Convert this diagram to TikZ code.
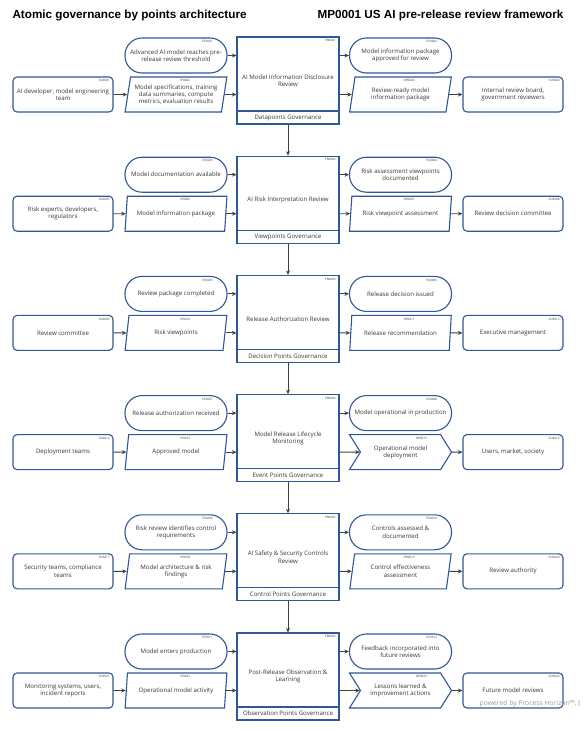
\documentclass[tikz,border=0pt]{standalone}
\usepackage{fontspec}
\setmainfont{Open Sans}
\newfontfamily\titlefont{Liberation Sans}
\usepackage{tikz}
\usetikzlibrary{arrows.meta, shapes.geometric, shapes.symbols}
\definecolor{boxblue}{RGB}{47,88,150}
\definecolor{inkgray}{RGB}{55,55,55}
\definecolor{linkgray}{RGB}{64,64,64}

\begin{document}
\begin{tikzpicture}[x=1pt, y=-1pt, line width=1.1pt,
    base/.style={draw=boxblue, align=center, text=inkgray, inner sep=1pt,
        font=\fontsize{6.1}{7.3}\selectfont},
    party/.style={base, rounded corners=4pt, minimum width=100pt, minimum height=35pt},
    trigger/.style={base, rounded corners=17pt, minimum width=102pt, minimum height=35pt},
    flow/.style={base, trapezium, trapezium left angle=77, trapezium right angle=103,
        trapezium stretches=true, minimum width=102pt, minimum height=35pt},
    handoff/.style={base, signal, signal to=east, signal from=west, signal pointer angle=116,
        minimum width=102pt, minimum height=35pt},
    process/.style={base, minimum width=102pt, minimum height=87pt},
    gov/.style={base, minimum width=102pt, minimum height=13pt, anchor=south},
    code/.style={font=\fontsize{3}{3}\selectfont, text=inkgray, inner sep=0.5pt},
    tagbox/.style={label={[code, anchor=north east, xshift=-3pt, yshift=-2pt]north east:#1}},
    tagpill/.style={label={[code, anchor=north east, xshift=-14pt, yshift=-2pt]north east:#1}},
    tagsig/.style={label={[code, anchor=north east, xshift=-13pt, yshift=-2pt]north east:#1}},
    link/.style={draw=linkgray, line width=0.9pt, -{Stealth[length=4.5pt, width=4pt]}}]

    % Frame
    \fill[white] (0,0) rectangle (582,731);
    \useasboundingbox (0,0) rectangle (582,731);

    % Titles
    \node[anchor=west, inner sep=0pt, font=\titlefont\bfseries\fontsize{11.7}{13}\selectfont] (ttl) at (12,15) {Atomic governance by points architecture};
    \node[anchor=east, inner sep=0pt, font=\titlefont\bfseries\fontsize{11.7}{13}\selectfont] (sub) at (564,15) {MP0001 US AI pre-release review framework};

    % Row 1
    \node[process, tagbox=PR0001] (pr1) at (288,80.5) {AI Model Information Disclosure\\Review};
    \node[gov] (gv1) at (pr1.south) {Datapoints Governance};
    \node[trigger, tagpill=ET0001] (et1) at (176,55.5) {Advanced AI model reaches pre-\\release review threshold};
    \node[trigger, tagpill=EC0002] (ec1) at (400.5,55.5) {Model information package\\approved for review};
    \node[party, tagbox=SU0001] (su1) at (63,94.5) {AI developer, model engineering\\team};
    \node[flow, tagbox=IP0002] (ip1) at (176,94.5) {Model specifications, training\\data summaries, compute\\metrics, evaluation results};
    \node[flow, tagbox=OP0003] (op1) at (400.5,94.5) {Review-ready model\\information package};
    \node[party, tagbox=CU0004] (cu1) at (513,94.5) {Internal review board,\\government reviewers};

    % Row 2
    \node[process, tagbox=PR0002] (pr2) at (288,199.7) {AI Risk Interpretation Review};
    \node[gov] (gv2) at (pr2.south) {Viewpoints Governance};
    \node[trigger, tagpill=ET0003] (et2) at (176,174.7) {Model documentation available};
    \node[trigger, tagpill=EC0004] (ec2) at (400.5,174.7) {Risk assessment viewpoints\\documented};
    \node[party, tagbox=SU0005] (su2) at (63,213.7) {Risk experts, developers,\\regulators};
    \node[flow, tagbox=IP0006] (ip2) at (176,213.7) {Model information package};
    \node[flow, tagbox=OP0007] (op2) at (400.5,213.7) {Risk viewpoint assessment};
    \node[party, tagbox=CU0008] (cu2) at (513,213.7) {Review decision committee};

    % Row 3
    \node[process, tagbox=PR0003] (pr3) at (288,318.9) {Release Authorization Review};
    \node[gov] (gv3) at (pr3.south) {Decision Points Governance};
    \node[trigger, tagpill=ET0005] (et3) at (176,293.9) {Review package completed};
    \node[trigger, tagpill=EC0006] (ec3) at (400.5,293.9) {Release decision issued};
    \node[party, tagbox=SU0009] (su3) at (63,332.9) {Review committee};
    \node[flow, tagbox=IP0010] (ip3) at (176,332.9) {Risk viewpoints};
    \node[flow, tagbox=OP0011] (op3) at (400.5,332.9) {Release recommendation};
    \node[party, tagbox=CU0012] (cu3) at (513,332.9) {Executive management};

    % Row 4
    \node[process, tagbox=PR0004] (pr4) at (288,438.1) {Model Release Lifecycle\\Monitoring};
    \node[gov] (gv4) at (pr4.south) {Event Points Governance};
    \node[trigger, tagpill=ET0007] (et4) at (176,413.1) {Release authorization received};
    \node[trigger, tagpill=EC0008] (ec4) at (400.5,413.1) {Model operational in production};
    \node[party, tagbox=SU0013] (su4) at (63,452.1) {Deployment teams};
    \node[flow, tagbox=IP0014] (ip4) at (176,452.1) {Approved model};
    \node[handoff, tagsig=OP0015] (op4) at (400.5,452.1) {Operational model\\deployment};
    \node[party, tagbox=CU0016] (cu4) at (513,452.1) {Users, market, society};

    % Row 5
    \node[process, tagbox=PR0005] (pr5) at (288,557.3) {AI Safety \& Security Controls\\Review};
    \node[gov] (gv5) at (pr5.south) {Control Points Governance};
    \node[trigger, tagpill=ET0009] (et5) at (176,532.3) {Risk review identifies control\\requirements};
    \node[trigger, tagpill=EC0010] (ec5) at (400.5,532.3) {Controls assessed \&\\documented};
    \node[party, tagbox=SU0017] (su5) at (63,571.3) {Security teams, compliance\\teams};
    \node[flow, tagbox=IP0018] (ip5) at (176,571.3) {Model architecture \& risk\\findings};
    \node[flow, tagbox=OP0019] (op5) at (400.5,571.3) {Control effectiveness\\assessment};
    \node[party, tagbox=CU0020] (cu5) at (513,571.3) {Review authority};

    % Row 6
    \node[process, tagbox=PR0006] (pr6) at (288,676.5) {Post-Release Observation \&\\Learning};
    \node[gov] (gv6) at (pr6.south) {Observation Points Governance};
    \node[trigger, tagpill=ET0011] (et6) at (176,651.5) {Model enters production};
    \node[trigger, tagpill=EC0012] (ec6) at (400.5,651.5) {Feedback incorporated into\\future reviews};
    \node[party, tagbox=SU0021] (su6) at (63,690.5) {Monitoring systems, users,\\incident reports};
    \node[flow, tagbox=IP0022] (ip6) at (176,690.5) {Operational model activity};
    \node[handoff, tagsig=OP0023] (op6) at (400.5,690.5) {Lessons learned \&\\improvement actions};
    \node[party, tagbox=CU0024] (cu6) at (513,690.5) {Future model reviews};

    % Connectors within each row
    \foreach \r in {1,...,6} {
        \draw[link] (et\r) -- (et\r -| pr\r.west);
        \draw[link] (su\r) -- (ip\r);
        \draw[link] (ip\r.east) -- (ip\r.east -| pr\r.west);
        \draw[link] (ec\r -| pr\r.east) -- (ec\r);
        \draw[link] (op\r -| pr\r.east) -- (op\r);
        \draw[link] (op\r) -- (cu\r);
    }

    % Connectors between rows
    \foreach \a/\b in {1/2, 2/3, 3/4, 4/5, 5/6}
        \draw[link] (pr\a.south) -- (pr\b.north);

    % Watermark
    \node[anchor=east, text=black!40, inner sep=0pt, font=\fontsize{6.8}{8}\selectfont] (mark) at (581,704) {powered by Process Horizon\texttrademark, (};
\end{tikzpicture}
\end{document}
